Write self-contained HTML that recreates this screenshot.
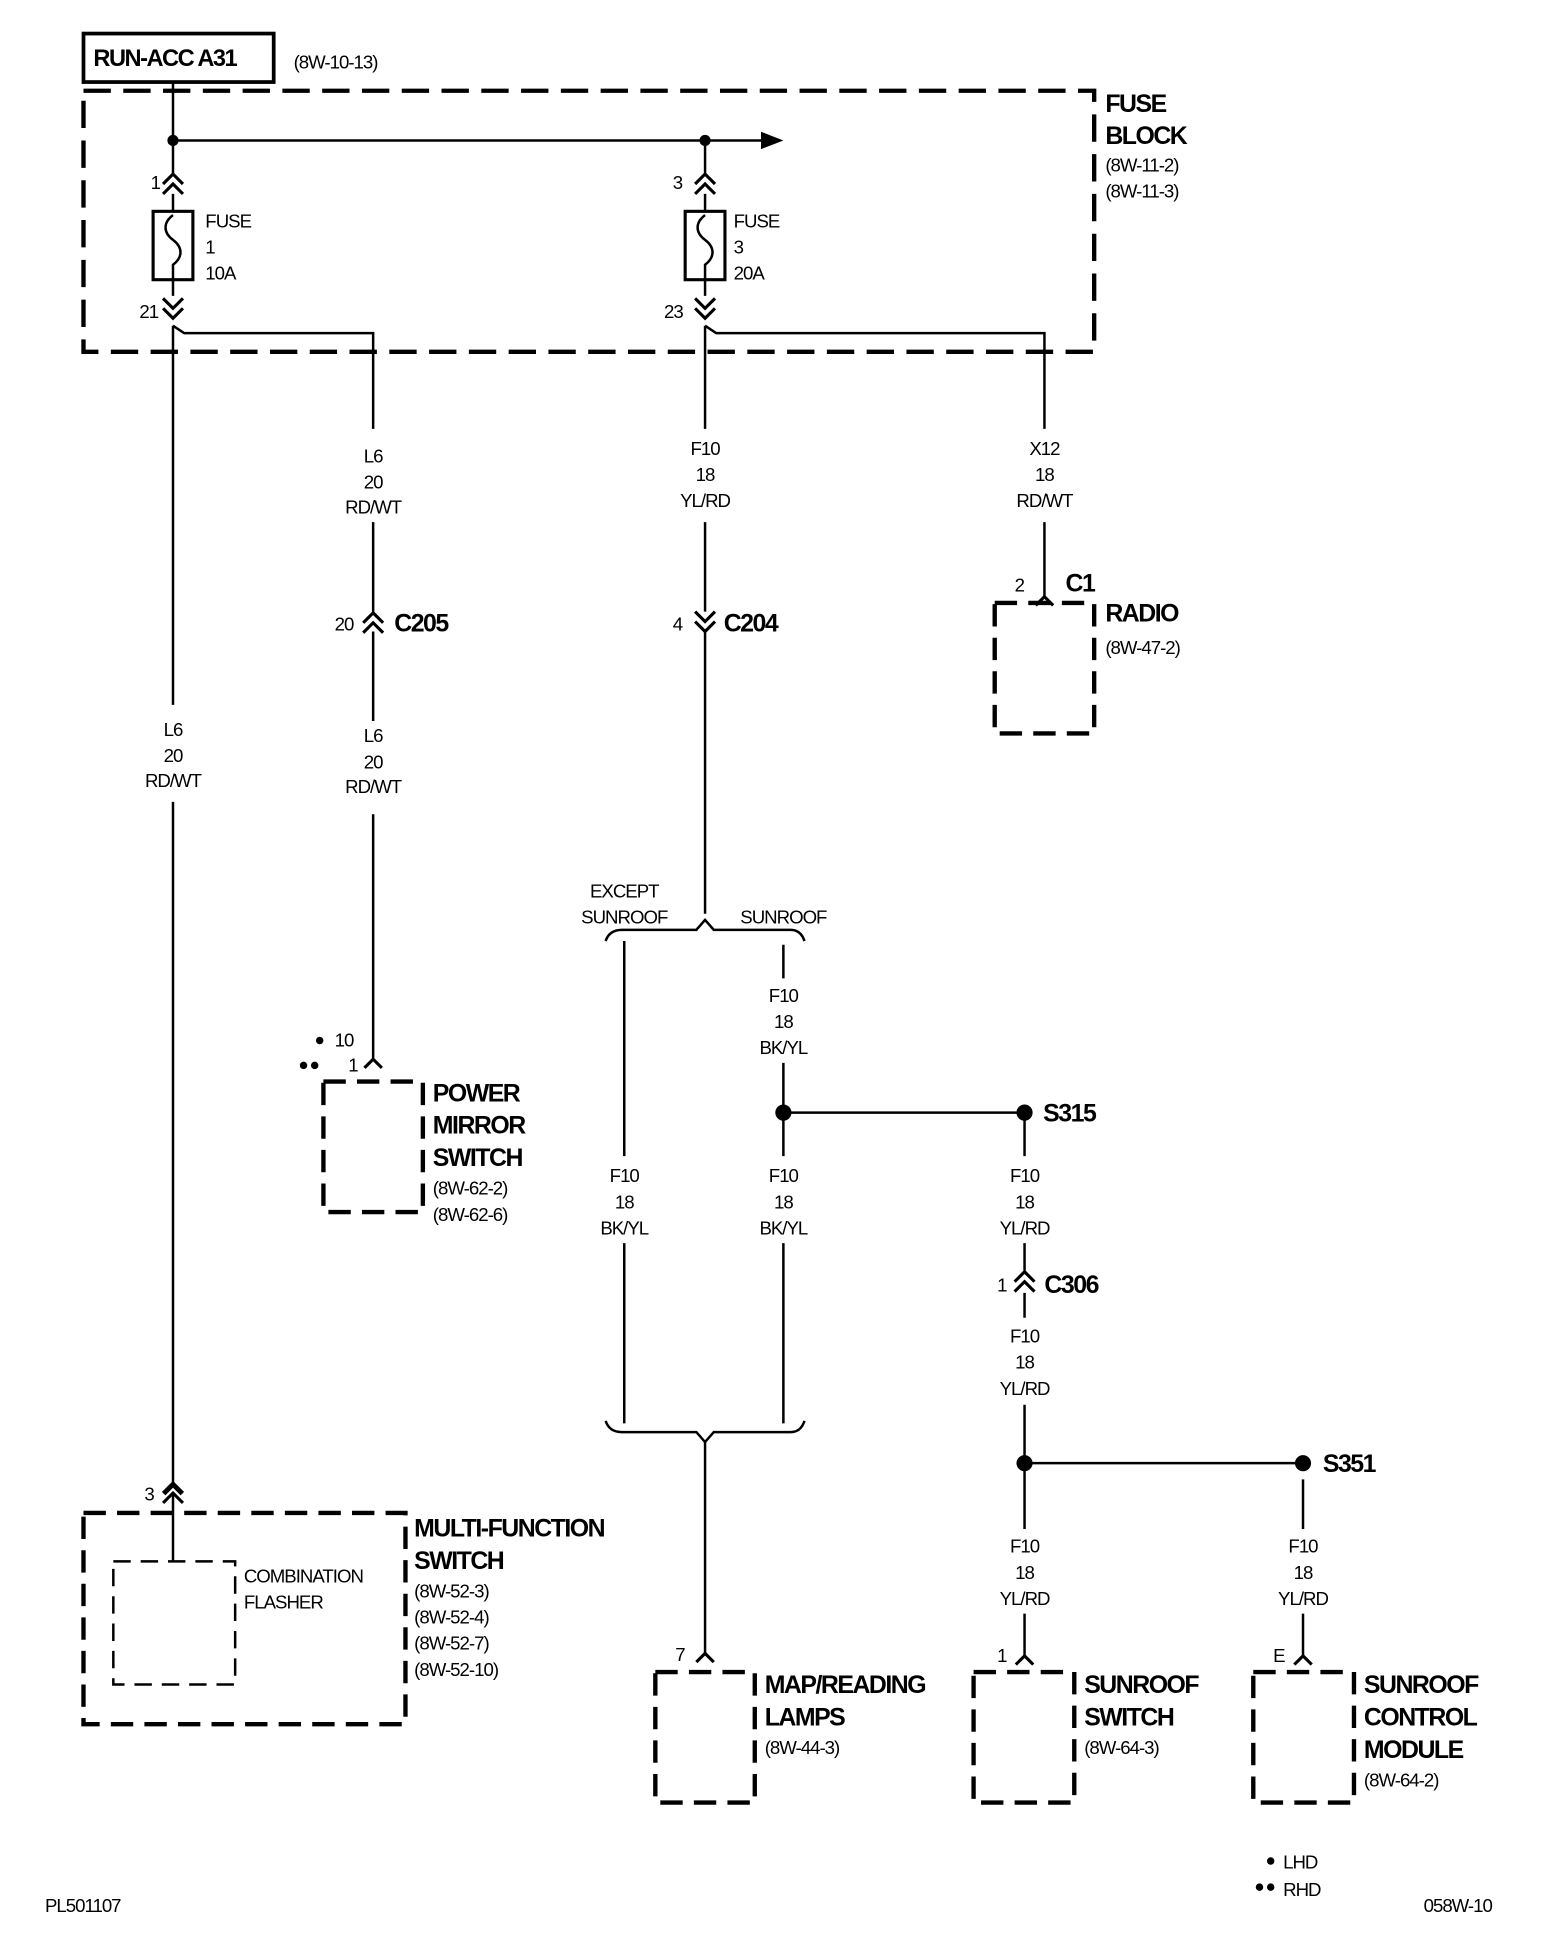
<!DOCTYPE html>
<html><head><meta charset="utf-8"><style>
html,body{margin:0;padding:0;background:#fff}
svg{display:block}
text{font-family:"Liberation Sans",sans-serif;fill:#000}
.s{font-size:15px;letter-spacing:-0.8px}
.b{font-size:20px;font-weight:bold;letter-spacing:-1.2px}
</style></head><body>
<svg width="1568" height="1948" viewBox="0 0 1261 1567" xmlns="http://www.w3.org/2000/svg">
<defs>
<g id="dup"><polyline points="-8,8 0,0 8,8" fill="none" stroke="#000" stroke-width="2.5"/><polyline points="-8,16 0,8 8,16" fill="none" stroke="#000" stroke-width="2.5"/></g>
<g id="ddn"><polyline points="-8,-8 0,0 8,-8" fill="none" stroke="#000" stroke-width="2.5"/><polyline points="-8,-16 0,-8 8,-16" fill="none" stroke="#000" stroke-width="2.5"/></g>
<g id="sup"><polyline points="-7,7 0,0 7,7" fill="none" stroke="#000" stroke-width="2.5"/></g>
</defs>
<g fill="none" stroke="#000">
<rect x="67" y="27" width="153" height="39" stroke-width="3"/>
<rect x="67" y="73" width="813" height="210" stroke-width="3.5" stroke-dasharray="22,10"/>
<line x1="139" y1="66" x2="139" y2="140" stroke-width="2"/>
<line x1="139" y1="113" x2="615" y2="113" stroke-width="2"/>
<line x1="567" y1="113" x2="567" y2="140" stroke-width="2"/>
<rect x="123" y="170" width="32" height="55" stroke-width="2.5"/>
<rect x="551" y="170" width="32" height="55" stroke-width="2.5"/>
<path d="M139,156 V170 M139,225 V238" stroke-width="2"/>
<path d="M567,156 V170 M567,225 V238" stroke-width="2"/>
<path d="M139,173 c-8,6 -8,14 0,20 c8,6 8,14 0,20 V225" stroke-width="2"/>
<path d="M567,173 c-8,6 -8,14 0,20 c8,6 8,14 0,20 V225" stroke-width="2"/>
<path d="M139,262 V567 M139,645 V1195" stroke-width="2"/>
<path d="M139,262 L148,268 H300 V345" stroke-width="2"/>
<path d="M300,420 V492 M300,508 V580 M300,655 V852" stroke-width="2"/>
<path d="M567,262 V345 M567,420 V492 M567,508 V735" stroke-width="2"/>
<path d="M567,262 L576,268 H840 V345 M840,420 V480" stroke-width="2"/>
<path d="M487,757 Q490,748 500,748 H560 L567,740 L574,748 H636 Q644,748 647,757" stroke-width="2"/>
<path d="M502,757 V930 M502,1000 V1145 M630,760 V787 M630,855 V930 M630,1000 V1145" stroke-width="2"/>
<path d="M487,1143 Q490,1152 500,1152 H560 L567,1160 L574,1152 H636 Q644,1152 647,1143" stroke-width="2"/>
<path d="M567,1160 V1330" stroke-width="2"/>
<path d="M630,895 H824 M824,895 V930 M824,1000 V1022 M824,1040 V1060 M824,1130 V1177 H1048 M824,1177 V1230 M1048,1190 V1230 M824,1298 V1332 M1048,1298 V1332" stroke-width="2"/>
<g stroke-width="3.5" stroke-dasharray="18,9">
<rect x="800" y="485" width="80" height="105"/>
<rect x="260" y="870" width="80" height="105"/>
<rect x="67" y="1217" width="259" height="170"/>
<rect x="527" y="1345" width="80" height="105"/>
<rect x="783" y="1345" width="81" height="105"/>
<rect x="1008" y="1345" width="81" height="105"/>
</g>
<rect x="91" y="1256" width="98" height="99" stroke-width="2" stroke-dasharray="14,8"/>
<line x1="139" y1="1202" x2="139" y2="1256" stroke-width="2"/>
</g>
<polygon points="612,106 630,113 612,120" fill="#000"/>
<circle cx="139" cy="113" r="4.5"/><circle cx="567" cy="113" r="4.5"/>
<circle cx="630" cy="895" r="6.5"/><circle cx="824" cy="895" r="6.5"/>
<circle cx="824" cy="1177" r="6.5"/><circle cx="1048" cy="1177" r="6.5"/>
<use href="#dup" x="139" y="140"/><use href="#dup" x="567" y="140"/>
<use href="#ddn" x="139" y="256"/><use href="#ddn" x="567" y="256"/>
<use href="#dup" x="300" y="493"/><use href="#ddn" x="567" y="508"/><use href="#dup" x="824" y="1023"/>
<use href="#sup" x="840" y="480"/><use href="#sup" x="300" y="852"/>
<use href="#sup" x="139" y="1195"/><use href="#dup" x="139" y="1193"/>
<use href="#sup" x="567" y="1330"/><use href="#sup" x="824" y="1332"/><use href="#sup" x="1048" y="1332"/>
<text x="75" y="53" class="b" style="font-size:19px">RUN-ACC A31</text>
<text x="236" y="55" class="s">(8W-10-13)</text>
<text x="889" y="90" class="b">FUSE</text><text x="889" y="116" class="b">BLOCK</text>
<text x="889" y="138" class="s">(8W-11-2)</text><text x="889" y="159" class="s">(8W-11-3)</text>
<text x="121" y="152" class="s">1</text><text x="541" y="152" class="s">3</text>
<text x="112" y="256" class="s">21</text><text x="534" y="256" class="s">23</text>
<text x="165" y="183" class="s">FUSE</text><text x="165" y="204" class="s">1</text><text x="165" y="225" class="s">10A</text>
<text x="590" y="183" class="s">FUSE</text><text x="590" y="204" class="s">3</text><text x="590" y="225" class="s">20A</text>
<g class="s" text-anchor="middle">
<text x="300" y="372">L6</text><text x="300" y="393">20</text><text x="300" y="413">RD/WT</text>
<text x="300" y="597">L6</text><text x="300" y="618">20</text><text x="300" y="638">RD/WT</text>
<text x="139" y="592">L6</text><text x="139" y="613">20</text><text x="139" y="633">RD/WT</text>
<text x="567" y="366">F10</text><text x="567" y="387">18</text><text x="567" y="408">YL/RD</text>
<text x="840" y="366">X12</text><text x="840" y="387">18</text><text x="840" y="408">RD/WT</text>
<text x="502" y="722">EXCEPT</text><text x="502" y="743">SUNROOF</text><text x="630" y="743">SUNROOF</text>
<text x="630" y="806">F10</text><text x="630" y="827">18</text><text x="630" y="848">BK/YL</text>
<text x="502" y="951">F10</text><text x="502" y="972">18</text><text x="502" y="993">BK/YL</text>
<text x="630" y="951">F10</text><text x="630" y="972">18</text><text x="630" y="993">BK/YL</text>
<text x="824" y="951">F10</text><text x="824" y="972">18</text><text x="824" y="993">YL/RD</text>
<text x="824" y="1080">F10</text><text x="824" y="1101">18</text><text x="824" y="1122">YL/RD</text>
<text x="824" y="1249">F10</text><text x="824" y="1270">18</text><text x="824" y="1291">YL/RD</text>
<text x="1048" y="1249">F10</text><text x="1048" y="1270">18</text><text x="1048" y="1291">YL/RD</text>
</g>
<text x="269" y="507" class="s">20</text><text x="317" y="508" class="b">C205</text>
<text x="541" y="507" class="s">4</text><text x="582" y="508" class="b">C204</text>
<text x="802" y="1039" class="s">1</text><text x="840" y="1040" class="b">C306</text>
<text x="816" y="476" class="s">2</text><text x="857" y="476" class="b">C1</text>
<text x="889" y="500" class="b">RADIO</text><text x="889" y="526" class="s">(8W-47-2)</text>
<text x="839" y="902" class="b">S315</text><text x="1064" y="1184" class="b">S351</text>
<circle cx="257" cy="837" r="3"/><text x="269" y="842" class="s">10</text>
<circle cx="244" cy="857" r="3"/><circle cx="253" cy="857" r="3"/><text x="280" y="862" class="s">1</text>
<text x="348" y="886" class="b">POWER</text><text x="348" y="912" class="b">MIRROR</text><text x="348" y="938" class="b">SWITCH</text>
<text x="348" y="961" class="s">(8W-62-2)</text><text x="348" y="982" class="s">(8W-62-6)</text>
<text x="116" y="1207" class="s">3</text>
<text x="333" y="1236" class="b">MULTI-FUNCTION</text><text x="333" y="1262" class="b">SWITCH</text>
<text x="333" y="1285" class="s">(8W-52-3)</text><text x="333" y="1306" class="s">(8W-52-4)</text><text x="333" y="1327" class="s">(8W-52-7)</text><text x="333" y="1348" class="s">(8W-52-10)</text>
<text x="196" y="1273" class="s">COMBINATION</text><text x="196" y="1294" class="s">FLASHER</text>
<text x="543" y="1336" class="s">7</text>
<text x="615" y="1362" class="b">MAP/READING</text><text x="615" y="1388" class="b">LAMPS</text><text x="615" y="1411" class="s">(8W-44-3)</text>
<text x="802" y="1337" class="s">1</text>
<text x="872" y="1362" class="b">SUNROOF</text><text x="872" y="1388" class="b">SWITCH</text><text x="872" y="1411" class="s">(8W-64-3)</text>
<text x="1024" y="1337" class="s">E</text>
<text x="1097" y="1362" class="b">SUNROOF</text><text x="1097" y="1388" class="b">CONTROL</text><text x="1097" y="1414" class="b">MODULE</text><text x="1097" y="1437" class="s">(8W-64-2)</text>
<circle cx="1022" cy="1497" r="3"/><text x="1032" y="1503" class="s">LHD</text>
<circle cx="1013" cy="1518" r="3"/><circle cx="1022" cy="1518" r="3"/><text x="1032" y="1525" class="s">RHD</text>
<text x="36" y="1538" class="s">PL501107</text><text x="1145" y="1538" class="s">058W-10</text>
</svg>
</body></html>
